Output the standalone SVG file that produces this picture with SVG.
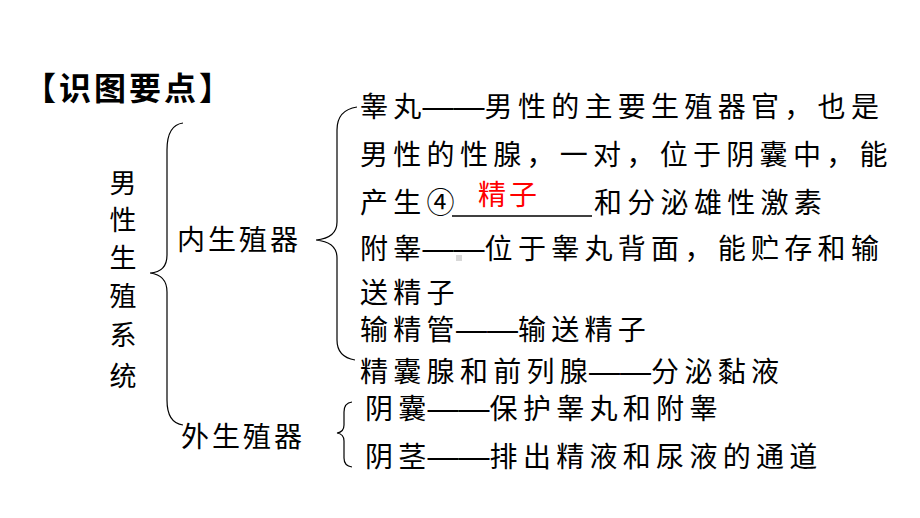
<svg xmlns="http://www.w3.org/2000/svg" width="920" height="518" viewBox="0 0 920 518">
<style>
.t{font-family:"Noto Sans CJK SC","Noto Sans",sans-serif;font-size:28px;fill:#000;letter-spacing:5.3px}
.d{font-family:"Liberation Sans",sans-serif;font-size:31px;letter-spacing:0px}
.h{font-family:"Noto Sans CJK SC",sans-serif;font-size:32px;font-weight:bold;fill:#000;letter-spacing:3px}
.v{font-family:"Noto Sans CJK SC",sans-serif;font-size:27px;fill:#000;text-anchor:middle}
.n{font-family:"Noto Sans CJK SC",sans-serif;font-size:28px;fill:#000;letter-spacing:3px}
.br{fill:none;stroke:#000;stroke-width:1.2}
</style>
<rect width="920" height="518" fill="#fff"/>
<g id="title"><text class="h" x="24" y="100">【识图要点】</text></g>
<g id="root">
<text class="v" x="123" y="193">男</text>
<text class="v" x="123" y="230">性</text>
<text class="v" x="123" y="268">生</text>
<text class="v" x="123" y="306">殖</text>
<text class="v" x="123" y="345">系</text>
<text class="v" x="123" y="386">统</text>
</g>
<g id="internal"><text class="n" x="177" y="250">内生殖器</text></g>
<g id="external"><text class="n" x="181" y="447">外生殖器</text></g>
<g id="testis">
<text class="t" x="360" y="117"><tspan>睾丸</tspan><tspan class="d" dx="-4">——</tspan><tspan>男性的主要生殖器官，也是</tspan></text>
<text class="t" x="360" y="165">男性的性腺，一对，位于阴囊中，能</text>
<text class="t" x="360" y="213">产生④</text>
<line x1="452" y1="216" x2="592" y2="216" stroke="#000" stroke-width="1.5"/>
<text x="478" y="205" font-family="Noto Sans CJK SC,sans-serif" font-size="28" fill="#ff0000" letter-spacing="3">精子</text>
<text class="t" x="594" y="213">和分泌雄性激素</text>
</g>
<g id="epididymis">
<text class="t" x="360" y="259"><tspan>附睾</tspan><tspan class="d" dx="-4">——</tspan><tspan>位于睾丸背面，能贮存和输</tspan></text>
<text class="t" x="360" y="303">送精子</text>
<rect x="456" y="255" width="6" height="6" fill="#d8d8d8"/>
</g>
<g id="vasdeferens"><text class="t" x="360" y="340"><tspan>输精管</tspan><tspan class="d" dx="-4">——</tspan><tspan>输送精子</tspan></text></g>
<g id="glands"><text class="t" x="360" y="382"><tspan>精囊腺和前列腺</tspan><tspan class="d" dx="-4">——</tspan><tspan>分泌黏液</tspan></text></g>
<g id="scrotum"><text class="t" x="365" y="419"><tspan>阴囊</tspan><tspan class="d" dx="-4">——</tspan><tspan>保护睾丸和附睾</tspan></text></g>
<g id="penis"><text class="t" x="365" y="467"><tspan>阴茎</tspan><tspan class="d" dx="-4">——</tspan><tspan>排出精液和尿液的通道</tspan></text></g>
<g id="connectors">
<path class="br" d="M183,123 Q167,125 167,150 L167,255 Q167,272 150,273 Q167,275 167,292 L167,400 Q167,423 183,425"/>
<path class="br" d="M357,107 Q337,110 337,130 L337,222 Q337,238 316,240 Q337,242 337,258 L337,340 Q337,357 355,360"/>
<path class="br" d="M352,402 Q344,403 344,412 L344,425 Q344,432 337,433 Q344,434 344,441 L344,458 Q344,466 352,467"/>
</g>
</svg>
